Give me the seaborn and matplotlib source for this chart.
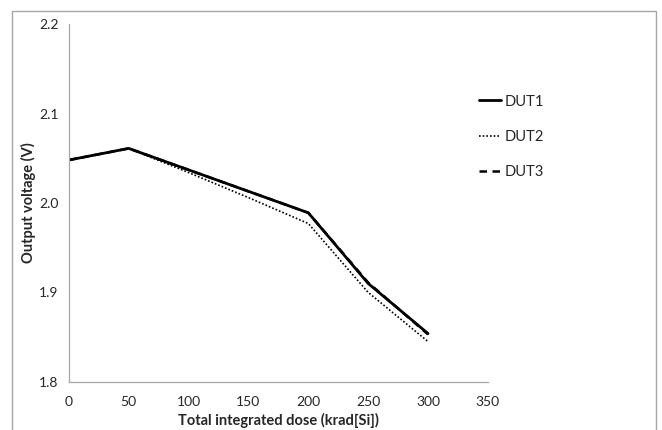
import pandas as pd
import seaborn as sns
import matplotlib.pyplot as plt
from matplotlib.patches import Rectangle

# dose points (krad[Si]) and output voltage
dose = [0, 50, 100, 150, 200, 250, 300]
dut1 = [2.048, 2.061, 2.037, 2.013, 1.989, 1.910, 1.854]
dut2 = [2.048, 2.061, 2.034, 2.006, 1.977, 1.900, 1.845]
dut3 = [2.048, 2.061, 2.037, 2.013, 1.989, 1.911, 1.853]

df = pd.concat([
    pd.DataFrame({'dose': dose, 'volt': dut1, 'DUT': 'DUT1'}),
    pd.DataFrame({'dose': dose, 'volt': dut2, 'DUT': 'DUT2'}),
    pd.DataFrame({'dose': dose, 'volt': dut3, 'DUT': 'DUT3'}),
])

sns.set_style('white')
plt.rcParams['font.family'] = ['Lato', 'DejaVu Sans']

fig = plt.figure(figsize=(6.62, 4.3), dpi=100)
ax = fig.add_axes([0.104, 0.112, 0.633, 0.832])

styles = {'DUT1': '', 'DUT2': (1, 1.2), 'DUT3': (3, 2.2)}
widths = {'DUT1': 2.0, 'DUT2': 1.2, 'DUT3': 1.8}
for name in ['DUT3', 'DUT2', 'DUT1']:
    sub = df[df['DUT'] == name]
    sns.lineplot(data=sub, x='dose', y='volt', ax=ax, color='black',
                 linewidth=widths[name], label=name)
    ln = ax.lines[-1]
    if name != 'DUT1':
        ln.set_dashes(styles[name])

ax.set_xlim(0, 350)
ax.set_ylim(1.8, 2.2)
ax.set_xticks(range(0, 351, 50))
ax.set_yticks([1.8, 1.9, 2.0, 2.1, 2.2])
ax.set_yticklabels(['1.8', '1.9', '2.0', '2.1', '2.2'])
ax.set_xlabel('Total integrated dose (krad[Si])', fontweight='bold', fontsize=10.5, labelpad=4)
ax.set_ylabel('Output voltage (V)', fontweight='bold', fontsize=10.5, labelpad=2)

for s in ['top', 'right']:
    ax.spines[s].set_visible(False)
for s in ['left', 'bottom']:
    ax.spines[s].set_color('#a6a6a6')
    ax.spines[s].set_linewidth(0.9)
ax.tick_params(axis='both', direction='out', length=4, width=0.9, color='#a6a6a6',
               labelsize=10, labelcolor='#262626')
ax.tick_params(axis='x', pad=6)

handles, labels = ax.get_legend_handles_labels()
order = [labels.index(n) for n in ['DUT1', 'DUT2', 'DUT3']]
leg = ax.legend([handles[i] for i in order], [labels[i] for i in order],
                loc='upper left', bbox_to_anchor=(0.978, 0.803), frameon=False,
                borderpad=0, borderaxespad=0,
                handlelength=1.5, handletextpad=0.3, labelspacing=1.45, fontsize=10.5)

# outer chart frame
fig.patches.append(Rectangle((12 / 662, -0.05), (656 - 12) / 662, 1.05 - 11 / 430,
                             transform=fig.transFigure, fill=False,
                             edgecolor='#a6a6a6', linewidth=1.0))

fig.savefig('out.png', dpi=100)
